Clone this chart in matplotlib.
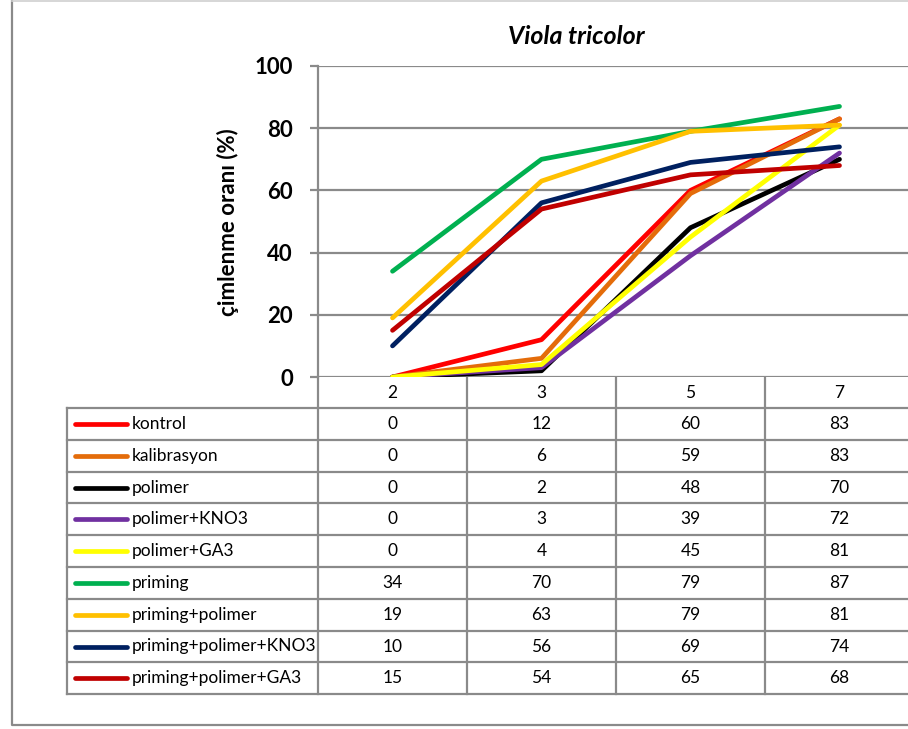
import numpy as np
import matplotlib
matplotlib.use('Agg')
from matplotlib import pyplot as plt

plt.rcParams['font.family'] = ['Lato', 'DejaVu Sans']

# germination days and treatment series (%)
days = ['2', '3', '5', '7']
series_names = ['kontrol', 'kalibrasyon', 'polimer', 'polimer+KNO3', 'polimer+GA3',
                'priming', 'priming+polimer', 'priming+polimer+KNO3', 'priming+polimer+GA3']
kontrol = [0, 12, 60, 83]
kalibrasyon = [0, 6, 59, 83]
polimer = [0, 2, 48, 70]
polimer_kno3 = [0, 3, 39, 72]
polimer_ga3 = [0, 4, 45, 81]
priming = [34, 70, 79, 87]
priming_polimer = [19, 63, 79, 81]
priming_polimer_kno3 = [10, 56, 69, 74]
priming_polimer_ga3 = [15, 54, 65, 68]
values = [kontrol, kalibrasyon, polimer, polimer_kno3, polimer_ga3,
          priming, priming_polimer, priming_polimer_kno3, priming_polimer_ga3]
colors = ['#FF0000', '#E46C0A', '#000000', '#7030A0', '#FFFF00',
          '#00B050', '#FFC000', '#002060', '#C00000']

W, H = 908, 729
grid_c = '#8A8A8A'
table_fs = 12.5

# layout in pixels
plot_left, col_w = 318, 149
plot_top, plot_bottom = 66, 377
tab_left = 67
row_top, row_h = 408, 31.8

fig = plt.figure(figsize=(W / 100, H / 100), dpi=100)

ax = fig.add_axes([plot_left / W, 1 - plot_bottom / H,
                   4 * col_w / W, (plot_bottom - plot_top) / H])
x = np.arange(len(days))
for name, vals, c in zip(series_names, values, colors):
    ax.plot(x, vals, color=c, lw=3.4, solid_capstyle='round', solid_joinstyle='round',
            label=name, zorder=3)
ax.set_xlim(-0.5, len(days) - 0.5)
ax.set_ylim(0, 100)
ax.set_yticks(range(0, 101, 20))
ax.set_xticks([])
ax.yaxis.grid(True, color=grid_c, lw=1.6)
ax.set_axisbelow(True)
for s in ['top', 'right', 'bottom']:
    ax.spines[s].set_visible(False)
ax.spines['left'].set_color(grid_c)
ax.spines['left'].set_linewidth(1.6)
ax.tick_params(axis='y', length=6, width=1.6, color=grid_c, pad=12,
               labelsize=16)
for lbl in ax.get_yticklabels():
    lbl.set_fontweight('bold')

fig.text(576 / W, 1 - 37 / H, 'Viola tricolor', ha='center', va='center',
         fontsize=18, fontweight='bold', style='italic')
fig.text(228 / W, 1 - 222 / H, 'çimlenme oranı (%)', ha='center', va='center',
         rotation=90, fontsize=16, fontweight='bold')

# data table underneath the plot
tab = fig.add_axes([0, 0, 1, 1], zorder=-1)
tab.set_xlim(0, W)
tab.set_ylim(H, 0)
tab.axis('off')

n = len(series_names)
tab_bottom = row_top + n * row_h
col_edges = [plot_left + k * col_w for k in range(len(days) + 1)]
for k, xe in enumerate(col_edges):
    tab.plot([xe, xe], [plot_bottom, tab_bottom], color=grid_c, lw=1.6)
tab.plot([tab_left, tab_left], [row_top, tab_bottom], color=grid_c, lw=1.6)
for k in range(n + 1):
    yy = row_top + k * row_h
    tab.plot([tab_left, W + 10], [yy, yy], color=grid_c, lw=1.6)

for j, d in enumerate(days):
    tab.text(plot_left + (j + 0.5) * col_w, (plot_bottom + row_top) / 2, d,
             ha='center', va='center', fontsize=table_fs)
for i, (name, vals, c) in enumerate(zip(series_names, values, colors)):
    yc = row_top + (i + 0.5) * row_h
    tab.plot([75, 127], [yc, yc], color=c, lw=3.4, solid_capstyle='round')
    tab.text(132, yc, name, ha='left', va='center', fontsize=table_fs)
    for j, v in enumerate(vals):
        tab.text(plot_left + (j + 0.5) * col_w, yc, str(v), ha='center',
                 va='center', fontsize=table_fs)

# chart frame
tab.plot([12, 12, W + 5], [1, 725, 725], color=grid_c, lw=1.6)
tab.plot([12, W + 5], [1, 1], color='#D0D0D0', lw=1.2)

fig.savefig('out.png', dpi=100)
